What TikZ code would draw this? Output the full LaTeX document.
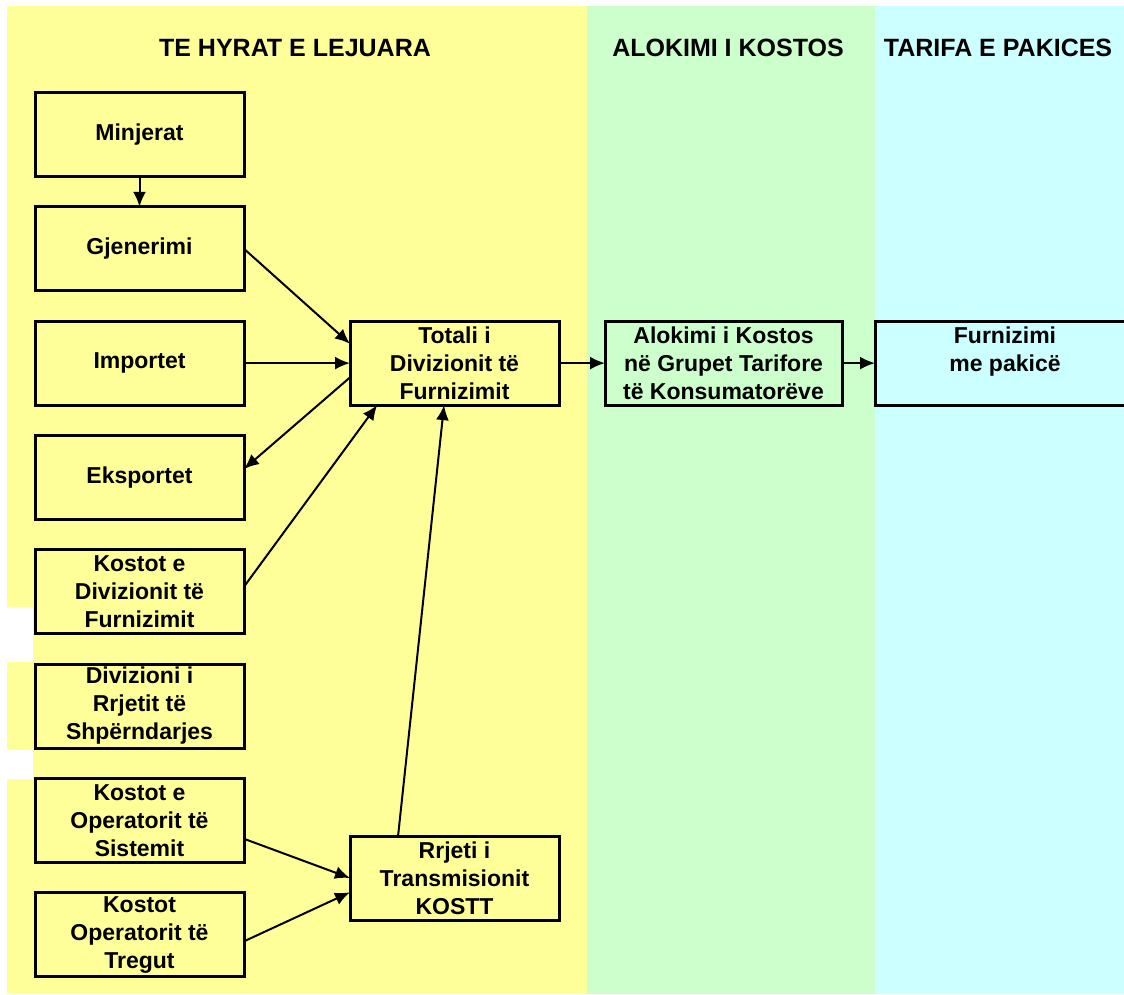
\documentclass[tikz,border=0pt]{standalone}
\usepackage{fontspec}
\setmainfont{Liberation Sans}
\usepackage{tikz}
\usetikzlibrary{arrows.meta,positioning,calc}

\definecolor{zoneA}{HTML}{FFFF99}
\definecolor{zoneB}{HTML}{CCFFCC}
\definecolor{zoneC}{HTML}{CCFFFF}

\tikzset{
  box/.style={draw, line width=3pt, minimum width=209pt, minimum height=84pt, inner sep=0pt, outer sep=0pt, align=center, font=\fontsize{23}{28}\selectfont\bfseries},
  head/.style={font=\fontsize{25}{30}\selectfont\bfseries},
  >={Latex[length=15pt,width=13pt]}
}

\begin{document}
\begin{tikzpicture}[x=1pt,y=-1pt,node distance=30.3pt,line width=2pt]

\useasboundingbox (0,0) rectangle (1124,994);

\fill[zoneA] (7,6) rectangle (587,994);
\fill[zoneB] (587,6) rectangle (875,994);
\fill[zoneC] (875,6) rectangle (1124,994);
\fill[white] (7,607) rectangle (33,662);
\fill[white] (7,750) rectangle (33,779);

\node(t1)[head] at (295,48){TE HYRAT E LEJUARA};

\node(t2)[head] at (728,48){ALOKIMI I KOSTOS};

\node(t3)[head] at (998,48){TARIFA E PAKICES};

\node(minj)[box] at (139.5,134.5){Minjerat};

\node(gjen)[box, below= of minj]{Gjenerimi};

\node(impo)[box, below= of gjen]{Importet};

\node(eksp)[box, below= of impo]{Eksportet};

\node(kdiv)[box, below= of eksp]{Kostot e\\ Divizionit të\\ Furnizimit};

\node(drrj)[box, below= of kdiv]{Divizioni i\\ Rrjetit të\\ Shpërndarjes};

\node(sist)[box, below= of drrj]{Kostot e\\ Operatorit të\\ Sistemit};

\node(treg)[box, below= of sist]{Kostot\\ Operatorit të\\ Tregut};

\node(totali)[box, right=106pt of impo]{Totali i\\ Divizionit të\\ Furnizimit};

\node(alok)[box, minimum width=237pt, right=46pt of totali]{Alokimi i Kostos\\ në Grupet Tarifore\\ të Konsumatorëve};

\node(furn)[box, minimum width=260pt, right=33pt of alok]{Furnizimi\\ me pakicë\\ ~};

\node(rrj)[box] at (454.5,878){Rrjeti i\\ Transmisionit\\ KOSTT};

\draw [->] (minj) -- (gjen);

\draw [->] (gjen.east) -- ($(totali.north west)!0.27!(totali.south west)$);

\draw [->] (impo) -- (totali);

\draw [->] ($(totali.north west)!0.67!(totali.south west)$) -- ($(eksp.north east)!0.4!(eksp.south east)$);

\draw [->] ($(kdiv.north east)!0.44!(kdiv.south east)$) -- ($(totali.south west)!0.13!(totali.south east)$);

\draw [->] ($(rrj.north west)!0.23!(rrj.north east)$) -- ($(totali.south west)!0.45!(totali.south east)$);

\draw [->] ($(sist.north east)!0.72!(sist.south east)$) -- ($(rrj.north west)!0.5!(rrj.south west)$);

\draw [->] ($(treg.north east)!0.58!(treg.south east)$) -- ($(rrj.north west)!0.67!(rrj.south west)$);

\draw [->] (totali) -- (alok);

\draw [->] (alok) -- (furn);

\end{tikzpicture}
\end{document}
